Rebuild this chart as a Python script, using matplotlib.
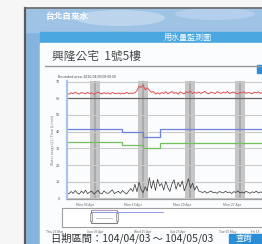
import numpy as np
import matplotlib
matplotlib.use("Agg")
import matplotlib.pyplot as plt
from matplotlib.patches import Rectangle, Ellipse

plt.rcParams["font.family"] = ["Noto Sans CJK TC", "DejaVu Sans"]

W, H = 262, 244

# ---- data ----
step_days = 0.3
red_usage = [
    63.0, 62.4, 63.3, 62.7, 63.6, 62.9, 62.5, 63.4, 63.1, 62.6,
    63.5, 62.8, 63.2, 62.4, 63.0, 63.7, 62.9, 62.6, 63.3, 62.8,
    63.1, 62.5, 63.4, 62.9, 62.7, 63.2, 62.6, 63.0, 62.8, 63.5,
    62.7, 63.1, 62.9, 63.3, 64.5, 67.2, 66.4, 67.8, 65.0, 66.2,
    64.8, 63.5, 64.0, 62.6, 63.2, 62.5, 63.4, 62.8, 63.9, 62.7,
    63.3, 64.0, 62.9, 63.5, 62.4, 63.8, 63.1, 62.6, 63.9, 63.2,
    64.2, 62.8, 63.5, 63.0, 63.7, 62.9, 63.4, 64.1, 63.0, 62.7,
    63.6, 63.2, 62.8, 63.9, 63.3, 62.9, 63.6, 63.1, 64.0, 62.8,
    63.4, 63.7, 63.0, 62.6, 63.5, 63.2, 63.8, 62.9, 63.4, 63.1,
    62.7, 63.6, 63.2, 63.9, 62.9, 63.3, 63.0, 63.5, 62.8, 63.4, 63.1,
]
black_flow = [
    3.5, 2.8, 4.2, 3.0, 4.8, 3.3, 2.6, 4.5, 3.1, 5.0,
    2.9, 3.8, 4.4, 2.7, 3.6, 4.9, 3.2, 2.8, 4.6, 3.4,
    3.0, 4.1, 5.2, 2.9, 3.7, 4.3, 3.1, 4.8, 3.5, 2.7,
    4.4, 6.0, 4.2, 8.5, 4.0, 9.8, 5.2, 3.5, 7.0, 4.5,
    12.5, 6.0, 10.8, 4.8, 11.5, 7.5, 9.0, 5.0, 10.2, 6.5,
    4.2, 8.8, 11.2, 5.5, 9.5, 7.0, 10.5, 4.6, 8.0, 11.8,
    6.2, 9.2, 5.0, 7.5, 4.5, 4.0, 3.6, 4.3, 3.2, 3.9,
    4.5, 3.4, 3.8, 3.1, 4.2, 3.7, 3.3, 4.4, 3.5, 3.9,
    3.0, 4.1, 3.6, 4.6, 3.4, 3.8, 3.2, 4.3, 3.7, 3.1,
    4.0, 3.5, 4.4, 3.3, 3.9, 3.6, 4.2, 3.0, 3.8, 3.5, 4.1,
]
step_days_blue = [0.0, 8.0, 11.1, 13.6, 31.0]
blue_level = [41.3, 39.5, 37.0, 41.6, 41.6]
step_days_green = [0.0, 8.0, 11.1, 13.6, 31.0]
green_level = [33.6, 31.8, 30.0, 33.0, 33.0]
band_start = [3.35, 10.3, 17.25, 24.45]
band_width = 1.45
x_tick_days = [2.6, 9.6, 16.8, 24.1]
x_tick_labels = ["Mon 06 Apr", "Mon 13 Apr", "Mon 20 Apr", "Mon 27 Apr"]
y_ticks = [0, 10, 20, 30, 40, 50, 60, 70]

nav_sel = (8.2, 15.5)
nav_line_days = [8.5, 28.5]
nav_line_level = [0.79, 0.79]
nav_label_days = [-2.0, 9.3, 22.8, 32.7, 46.8, 54.5]
nav_labels = ["Thu 26 Mar", "Sun 05 Apr", "Wed 15 Apr", "Sat 25 Apr", "Tue 05 May", "Fri 15"]


def px_axes(fig, x0, y0, x1, y1, **kw):
    return fig.add_axes([x0 / W, 1 - y1 / H, (x1 - x0) / W, (y1 - y0) / H], **kw)


fig = plt.figure(figsize=(W / 100, H / 100), dpi=100)

# ---- background / page decoration in pixel coords ----
bg = fig.add_axes([0, 0, 1, 1])
bg.set_xlim(0, W)
bg.set_ylim(H, 0)
bg.axis("off")
bg.add_patch(Rectangle((0, 0), W, H, color="#f6f6f6"))
bg.imshow(np.linspace(0, 1, 30).reshape(1, -1) ** 3, cmap="Greys", vmin=-0.3, vmax=2.2,
          extent=(0, 25, H, 8), aspect="auto")
# screen with sky
bg.add_patch(Rectangle((25, 8), W - 25, H - 8, color="#86b4de"))
bg.imshow(np.linspace(0, 1, 40).reshape(-1, 1), cmap="Blues", vmin=-0.2, vmax=1.4,
          extent=(25, 41, H, 32), aspect="auto")
bg.add_patch(Rectangle((25, 8), W - 25, 24, color="#9fc3e5"))
bg.add_patch(Ellipse((120, 18), 90, 16, color="#c9def1", alpha=0.7, lw=0))
bg.add_patch(Ellipse((215, 14), 80, 12, color="#bcd5ee", alpha=0.7, lw=0))
bg.plot([25, 25], [8, H], color="#5b5b5b", lw=1.6)
bg.plot([25, W], [8, 8], color="#6a6a6a", lw=1.2)
bg.text(45, 16, "台北自來水", color="white", fontsize=6.2, va="center",
        fontweight="bold")

# header bar and white panel
bg.add_patch(Rectangle((40, 32), W - 40, 11, color="#4aa7df"))
bg.text(188, 37.5, "用水量監測圖", color="white", fontsize=5.8, ha="center", va="center")
bg.add_patch(Rectangle((40, 43), W - 40, H - 43, color="#fbfcfd"))
bg.text(52, 56, "興隆公宅  1號5樓", color="#4a4a4a", fontsize=8.5, va="center")
bg.plot([45, W], [66, 66], color="#9a9a9a", lw=1.0)
bg.add_patch(Rectangle((257, 65), 6, 8, color="#2b8ed8"))
bg.text(58, 76, "Bounded area: 2015/04/03 08:00:00", color="#444", fontsize=2.6,
        va="center")
bg.text(53, 140, "Water usage (L) / Flow (L/min)", color="#777", fontsize=2.6,
        rotation=90, ha="center", va="center")

# ---- main chart ----
ax = px_axes(fig, 67, 81, 276, 199)
ax.set_facecolor("none")
ax.set_xlim(0, 209 / 6.86)
ax.set_ylim(-0.3, 70.3)
for s in band_start:
    ax.axvspan(s, s + band_width, color="#c6c6c6", lw=0)
    ax.axvline(s + band_width / 2, color="#ababab", lw=1.4)
for v in y_ticks:
    ax.axhline(v, color="#666666" if v == 60 else "#c9c9c9", lw=0.9 if v == 60 else 0.8)
days = np.arange(len(red_usage)) * step_days
ax.plot(days, red_usage, color="#e0504e", lw=0.7)
ax.step(step_days_blue, blue_level, where="post", color="#6d82d8", lw=0.9)
ax.step(step_days_green, green_level, where="post", color="#72c060", lw=0.9)
fdays = np.arange(len(black_flow)) * step_days
ax.plot(fdays, black_flow, color="#333333", lw=0.5)
ax.set_yticks(y_ticks)
ax.set_yticklabels([str(v) for v in y_ticks], fontsize=2.8, color="#555")
ax.set_xticks(x_tick_days)
ax.set_xticklabels(x_tick_labels, fontsize=2.5, color="#666")
ax.tick_params(length=0, pad=3)
ax.tick_params(axis="y", pad=5)
for side in ("top", "right"):
    ax.spines[side].set_visible(False)
ax.spines["left"].set_color("#a9c6ea")
ax.spines["left"].set_linewidth(1.6)
ax.spines["bottom"].set_color("#9c9c9c")
ax.spines["bottom"].set_linewidth(0.9)

# ---- navigator ----
nav = px_axes(fig, 62, 208, 275, 227)
nav.set_facecolor("#ffffff")
nav.set_xlim(0, 60)
nav.set_ylim(0, 1)
nav.set_xticks([])
nav.set_yticks([])
for side in nav.spines:
    nav.spines[side].set_color("#a0a0a0")
    nav.spines[side].set_linewidth(0.8)
nav.spines["right"].set_visible(False)
nav.add_patch(Rectangle((nav_sel[0], 0.2), nav_sel[1] - nav_sel[0], 0.7,
                        facecolor="white", edgecolor="#808080", lw=0.8))
nav.plot(nav_line_days, nav_line_level, color="#8c9fe2", lw=0.7)
nav.plot([nav_sel[0], nav_sel[1]], [0.9, 0.9], color="#c9a0c8", lw=0.6)
nav.plot([nav_sel[0] + 1.5, nav_sel[1] - 1.5], [0.45, 0.45], color="#b0b0b0", lw=0.5)
for x in nav_sel:
    nav.add_patch(Rectangle((x - 0.35, 0.3), 0.7, 0.45, facecolor="#e6e6e6",
                            edgecolor="#8a8a8a", lw=0.5))
for lx, lab in zip(nav_label_days, nav_labels):
    nav.text(lx, -0.15, lab, fontsize=2.4, color="#666", ha="center", va="top",
             clip_on=False)

# date tooltips above the navigator
for x0, lab in [(72, "2015/04/08"), (118, "2015/04/15")]:
    bg.add_patch(Rectangle((x0, 208.5), 17, 5.5, facecolor="#f4eea2",
                           edgecolor="#d6c75c", lw=0.5, zorder=5))
    bg.text(x0 + 8.5, 211.3, lab, fontsize=2.0, color="#555", ha="center",
            va="center", zorder=6)

# ---- bottom query line ----
bot = fig.add_axes([0, 0, 1, 1], zorder=10)
bot.set_xlim(0, W)
bot.set_ylim(H, 0)
bot.axis("off")
bot.text(51, 232.5, "日期區間：104/04/03 ～ 104/05/03", color="#333", fontsize=7.4,
         va="top")
bot.add_patch(Rectangle((229, 234), 40, 11, color="#2a8dd6"))
bot.text(236, 234.5, "查詢", color="white", fontsize=6.0, va="top")

fig.savefig("out.png", dpi=100)
